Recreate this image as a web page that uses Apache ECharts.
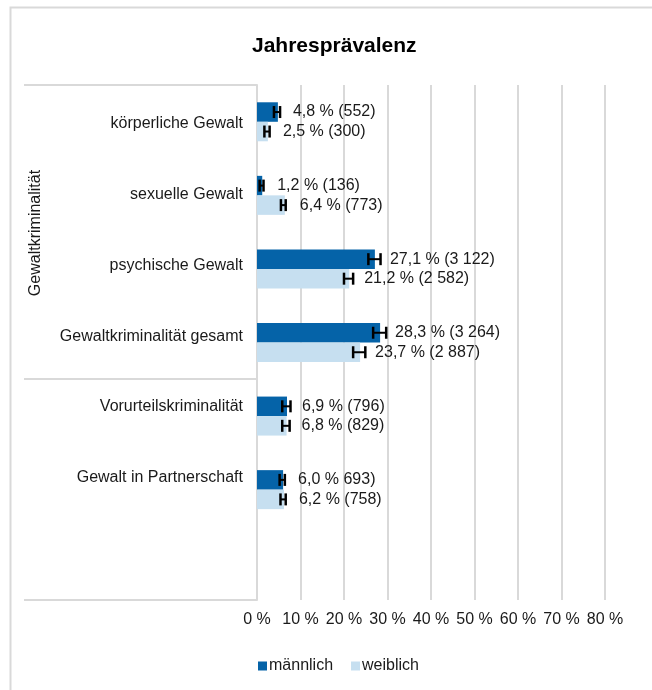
<!DOCTYPE html>
<html>
<head>
<meta charset="utf-8">
<script src="https://cdn.jsdelivr.net/npm/echarts@6/dist/echarts.min.js"></script>
<style>
  html, body { margin: 0; padding: 0; background: #fff; }
  #main { width: 652px; height: 690px; }
</style>
</head>
<body>
<div id="main"></div>
<script>
// Jahresprävalenz nach Geschlecht
const categories = ['körperliche Gewalt', 'sexuelle Gewalt', 'psychische Gewalt',
  'Gewaltkriminalität gesamt', 'Vorurteilskriminalität', 'Gewalt in Partnerschaft'];
const maleValues = [4.8, 1.2, 27.1, 28.3, 6.9, 6.0];
const femaleValues = [2.5, 6.4, 21.2, 23.7, 6.8, 6.2];
const maleLow = [3.9, 0.6, 25.6, 26.7, 5.8, 5.2];
const maleHigh = [5.3, 1.5, 28.4, 29.7, 7.7, 6.4];
const femaleLow = [1.7, 5.5, 20.0, 22.1, 5.8, 5.4];
const femaleHigh = [2.9, 6.6, 22.1, 24.9, 7.5, 6.6];
const maleLabels = ['4,8 % (552)', '1,2 % (136)', '27,1 % (3 122)', '28,3 % (3 264)', '6,9 % (796)', '6,0 % 693)'];
const femaleLabels = ['2,5 % (300)', '6,4 % (773)', '21,2 % (2 582)', '23,7 % (2 887)', '6,8 % (829)', '6,2 % (758)'];
const xTicks = [0, 10, 20, 30, 40, 50, 60, 70, 80];

const font = 'Arial, "Liberation Sans", sans-serif';
const txt = '#1a1a1a';
const gridGray = '#d9d9d9';

const chart = echarts.init(document.getElementById('main'));

function errorBar(offset) {
  return function (params, api) {
    const c = api.value(2);
    const p1 = api.coord([api.value(0), c]);
    const p2 = api.coord([api.value(1), c]);
    const y = p1[1] + offset;
    const h = 6;
    const st = { stroke: '#000', lineWidth: 2 };
    const cap = { stroke: '#000', lineWidth: 2.5 };
    return {
      type: 'group',
      children: [
        { type: 'line', shape: { x1: p1[0], y1: y, x2: p2[0], y2: y }, style: st },
        { type: 'line', shape: { x1: p1[0], y1: y - h, x2: p1[0], y2: y + h }, style: cap },
        { type: 'line', shape: { x1: p2[0], y1: y - h, x2: p2[0], y2: y + h }, style: cap }
      ]
    };
  };
}

const option = {
  backgroundColor: '#fff',
  animation: false,
  textStyle: { fontFamily: font },
  title: {
    text: 'Jahresprävalenz',
    left: 247,
    top: 31,
    textStyle: { fontSize: 21, fontWeight: 'bold', color: '#000', fontFamily: font }
  },
  legend: {
    data: ['männlich', 'weiblich'],
    left: 253,
    top: 653,
    icon: 'rect',
    itemWidth: 9,
    itemHeight: 9,
    itemGap: 18,
    textStyle: { fontSize: 16, color: txt, fontFamily: font, padding: [0, 0, 0, -3] }
  },
  graphic: [
    { type: 'rect', shape: { x: 10.5, y: 7.5, width: 700, height: 700 },
      style: { fill: 'none', stroke: gridGray, lineWidth: 2 }, silent: true, z: -1 },
    { type: 'line', shape: { x1: 24, y1: 85, x2: 257, y2: 85 }, style: { stroke: gridGray, lineWidth: 2 } },
    { type: 'line', shape: { x1: 24, y1: 379, x2: 257, y2: 379 }, style: { stroke: gridGray, lineWidth: 2 } },
    { type: 'line', shape: { x1: 24, y1: 600, x2: 257, y2: 600 }, style: { stroke: gridGray, lineWidth: 2 } },
    { type: 'text', x: 36, y: 233, rotation: Math.PI / 2,
      style: { text: 'Gewaltkriminalität', fill: txt, font: '16px ' + font, align: 'center', verticalAlign: 'middle' } }
  ],
  grid: [
    { left: 257, top: 85, width: 348, height: 515 },
    { left: 257, top: 88, width: 348, height: 425.4 }
  ],
  xAxis: [
    {
      type: 'value', gridIndex: 0, min: 0, max: 80, interval: 10,
      axisLine: { show: false }, axisTick: { show: false },
      splitLine: { show: true, lineStyle: { color: gridGray, width: 2 } },
      axisLabel: { fontSize: 16, color: txt, margin: 12, formatter: v => v + ' %',
        customValues: xTicks }
    },
    { type: 'value', gridIndex: 1, min: 0, max: 80, show: false }
  ],
  yAxis: [
    {
      type: 'category', gridIndex: 0, inverse: true,
      data: categories.concat(['']),
      axisLine: { show: true, lineStyle: { color: gridGray, width: 2 } },
      axisTick: { show: false }, axisLabel: { show: false }, splitLine: { show: false }
    },
    {
      type: 'category', gridIndex: 1, inverse: true, data: categories,
      axisLine: { show: false }, axisTick: { show: false }, splitLine: { show: false },
      axisLabel: { fontSize: 16, color: txt, margin: 14 }
    }
  ],
  series: [
    {
      name: 'männlich', type: 'bar', xAxisIndex: 0, yAxisIndex: 0,
      data: maleValues, barWidth: 19.5, barGap: '0%',
      itemStyle: { color: '#0563a8' },
      label: { show: true, position: 'right', distance: 15, fontSize: 16, color: txt,
        formatter: p => maleLabels[p.dataIndex] }
    },
    {
      name: 'weiblich', type: 'bar', xAxisIndex: 0, yAxisIndex: 0,
      data: femaleValues, barWidth: 19.5, barGap: '0%',
      itemStyle: { color: '#c6dff0' },
      label: { show: true, position: 'right', distance: 15, fontSize: 16, color: txt,
        formatter: p => femaleLabels[p.dataIndex] }
    },
    {
      type: 'custom', xAxisIndex: 0, yAxisIndex: 0, z: 5, silent: true,
      renderItem: errorBar(-9.75),
      encode: { x: [0, 1], y: 2 },
      data: maleLow.map((v, i) => [v, maleHigh[i], i])
    },
    {
      type: 'custom', xAxisIndex: 0, yAxisIndex: 0, z: 5, silent: true,
      renderItem: errorBar(9.75),
      encode: { x: [0, 1], y: 2 },
      data: femaleLow.map((v, i) => [v, femaleHigh[i], i])
    }
  ]
};

chart.setOption(option);
</script>
</body>
</html>
